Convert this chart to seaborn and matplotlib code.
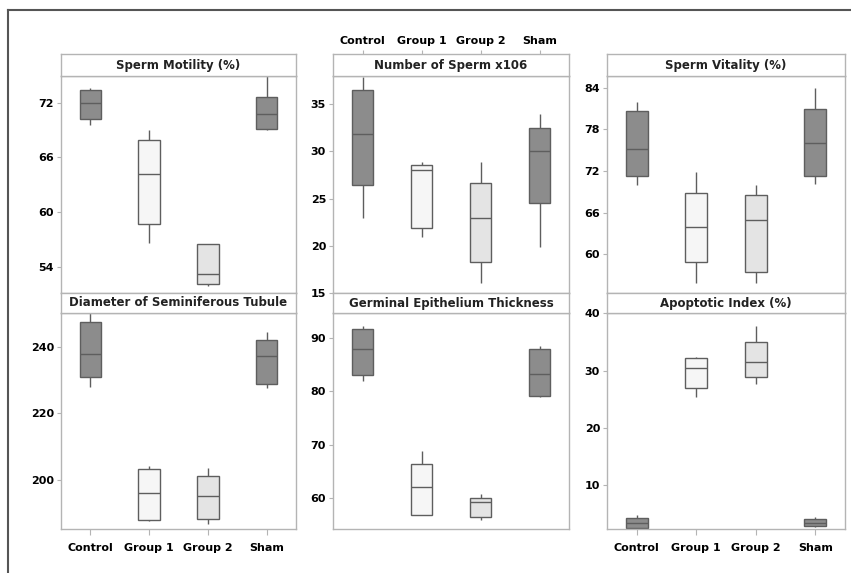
import numpy as np
import pandas as pd
import seaborn as sns
import matplotlib.pyplot as plt
from matplotlib.lines import Line2D

# ---------------- data (five-number summaries: min, q1, median, q3, max)
groups = ["Control", "Group 1", "Group 2", "Sham"]

motility = [[69.5, 70.25, 71.9, 73.4, 73.6],
            [56.7, 58.7, 64.2, 67.9, 69.0],
            [52.0, 52.2, 53.3, 56.5, 56.6],
            [69.0, 69.1, 70.8, 72.6, 74.9]]
sperm_number = [[22.9, 26.5, 31.8, 36.5, 37.9],
                [20.9, 21.9, 28.0, 28.6, 28.9],
                [16.1, 18.3, 22.9, 26.7, 28.9],
                [19.9, 24.5, 30.0, 32.5, 34.0]]
vitality = [[70.0, 71.3, 75.1, 80.7, 82.0],
            [55.9, 58.8, 63.9, 68.8, 71.9],
            [55.9, 57.5, 65.0, 68.5, 70.0],
            [70.1, 71.3, 76.1, 80.9, 83.9]]
diameter = [[228.0, 231.0, 237.8, 247.3, 250.0],
            [187.8, 188.0, 196.0, 203.3, 204.2],
            [186.7, 188.3, 195.2, 201.3, 203.5],
            [227.5, 228.8, 237.2, 242.0, 244.3]]
germinal = [[82.0, 83.1, 87.9, 91.7, 92.2],
            [56.8, 56.8, 62.0, 66.4, 68.8],
            [55.9, 56.5, 59.2, 60.0, 60.8],
            [79.0, 79.2, 83.2, 87.9, 88.5]]
apoptotic = [[2.4, 2.5, 3.4, 4.3, 4.75],
             [25.3, 26.9, 30.5, 32.1, 32.3],
             [27.7, 28.8, 31.4, 35.0, 37.7],
             [2.6, 2.8, 3.4, 4.0, 4.4]]

titles = ["Sperm Motility (%)", "Number of Sperm x106", "Sperm Vitality (%)",
          "Diameter of Seminiferous Tubule", "Germinal Epithelium Thickness", "Apoptotic Index (%)"]
yticks = [[54, 60, 66, 72], [15, 20, 25, 30, 35], [60, 66, 72, 78, 84],
          [200, 220, 240], [60, 70, 80, 90], [10, 20, 30, 40]]
ylims = [(51.2, 74.9), (15.0, 38.0), (54.4, 85.7),
         (185.3, 250.1), (54.2, 94.7), (2.3, 40.05)]

# ---------------- style
W, H = 851, 573
fig = plt.figure(figsize=(W / 100, H / 100), dpi=100)
fig.patch.set_facecolor("white")

box_colors = {"Control": "#8c8c8c", "Group 1": "#f6f6f6", "Group 2": "#e4e4e4", "Sham": "#8c8c8c"}
edge = "#5e5e5e"
frame = "#b4b4b4"
font = dict(family="DejaVu Sans", weight="bold")


def fx(px):
    return px / W


def fy(py):
    return 1 - py / H


cols = [(61, 296), (333, 569), (607, 845)]
rows = [((54, 76), (76, 293)), ((293, 313), (313, 529))]

datasets = [motility, sperm_number, vitality, diameter, germinal, apoptotic]

for i, data in enumerate(datasets):
    r, c = divmod(i, 3)
    x0, x1 = cols[c]
    (s0, s1), (p0, p1) = rows[r]
    ax = fig.add_axes([fx(x0), fy(p1), fx(x1 - x0), (p1 - p0) / H])
    df = pd.DataFrame({"group": np.repeat(groups, 5),
                       "value": np.concatenate([np.asarray(v) for v in data])})
    sns.boxplot(data=df, x="group", y="value", hue="group", order=groups, hue_order=groups,
                palette=box_colors, legend=False, width=0.37, whis=(0, 100),
                linecolor=edge, linewidth=1.0, showcaps=False, fliersize=0, ax=ax)
    ax.set_xlim(-0.5, 3.5)
    ax.set_ylim(*ylims[i])
    ax.set_yticks(yticks[i])
    ax.set_yticklabels([str(t) for t in yticks[i]], fontsize=8, **font)
    ax.set_xlabel("")
    ax.set_ylabel("")
    ax.set_facecolor("white")
    for sp in ax.spines.values():
        sp.set_color(frame)
        sp.set_linewidth(1.0)
    ax.tick_params(axis="y", length=3, color=frame, pad=2)
    if r == 1 and c != 1:
        ax.set_xticks(range(4))
        ax.set_xticklabels(groups, fontsize=8, **font)
        ax.tick_params(axis="x", length=4, color=frame, pad=6)
    else:
        ax.set_xticks([])

    # strip with panel title
    sa = fig.add_axes([fx(x0), fy(s1), fx(x1 - x0), (s1 - s0) / H])
    sa.set_xlim(-0.5, 3.5)
    sa.set_ylim(0, 1)
    sa.set_yticks([])
    sa.set_facecolor("white")
    for sp in sa.spines.values():
        sp.set_color(frame)
        sp.set_linewidth(1.0)
    if r == 0 and c == 1:
        sa.xaxis.tick_top()
        sa.set_xticks(range(4))
        sa.set_xticklabels(groups, fontsize=8, **font)
        sa.tick_params(axis="x", length=3, color=frame, pad=3)
    else:
        sa.set_xticks([])
    sa.text(0.5, 0.5, titles[i], transform=sa.transAxes, ha="center", va="center",
            fontsize=8.5, color="#222222", **font)

# outer document frame (left and top edges)
fig.add_artist(Line2D([fx(8), fx(8)], [fy(10), 0], color="#555555", lw=1.5))
fig.add_artist(Line2D([fx(8), 1], [fy(10), fy(10)], color="#555555", lw=1.5))

fig.savefig("out.png", dpi=100, facecolor="white")
